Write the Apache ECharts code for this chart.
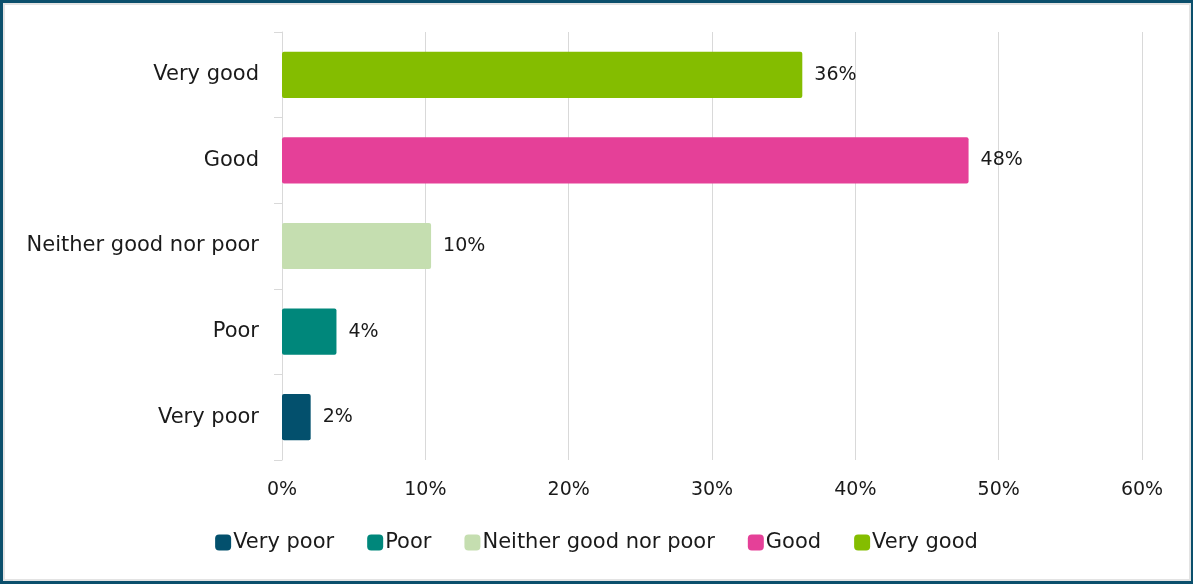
<!DOCTYPE html>
<html>
<head>
<meta charset="utf-8">
<script src="https://cdn.jsdelivr.net/npm/echarts@6/dist/echarts.min.js"></script>
<style>
html,body{margin:0;padding:0;background:#fff;}
#chart{position:absolute;left:0;top:0;width:1193px;height:584px;}
#wrap{position:absolute;left:0;top:0;width:1193px;height:584px;box-sizing:border-box;border:3px solid #0B4F6C;border-right-width:2px;pointer-events:none;}
#inner{position:absolute;left:0;top:0;right:0;bottom:0;border:2px solid #e3e3e3;}
</style>
</head>
<body>
<div id="chart"></div>
<div id="wrap"><div id="inner"></div></div>
<script>
const categories = ['Very poor', 'Poor', 'Neither good nor poor', 'Good', 'Very good'];
const values = [2.0, 3.8, 10.4, 47.9, 36.3];
const colors = ['#03506D', '#00877B', '#C5DEB0', '#E54098', '#84BD00'];
const xTicks = [0, 10, 20, 30, 40, 50, 60];

const FONT = 'DejaVu Sans, sans-serif';
const chart = echarts.init(document.getElementById('chart'));
const series = categories.map((name, i) => ({
  name: name,
  type: 'bar',
  stack: 'all',
  barWidth: '54%',
  itemStyle: { color: colors[i], borderRadius: 2 },
  label: {
    show: true, position: 'right', distance: 12,
    color: '#1a1a1a', fontSize: 19, fontFamily: FONT,
    formatter: p => Math.round(p.value) + '%'
  },
  data: categories.map((c, j) => j === i ? values[i] : null)
}));

chart.setOption({
  animation: false,
  textStyle: { fontFamily: FONT },
  grid: { left: 282, right: 51, top: 32, bottom: 124 },
  legend: {
    bottom: 26, left: 'center',
    itemWidth: 16, itemHeight: 16, itemGap: 33,
    icon: 'roundRect',
    textStyle: { fontSize: 21, color: '#1a1a1a', fontFamily: FONT, padding: [0, 0, 0, -3] },
    data: categories
  },
  xAxis: {
    type: 'value', min: xTicks[0], max: xTicks[xTicks.length - 1], interval: 10,
    axisLine: { show: false }, axisTick: { show: false },
    splitLine: { lineStyle: { color: '#d9d9d9', width: 1 } },
    axisLabel: { formatter: v => v + '%', fontSize: 19, color: '#1a1a1a', margin: 21, fontFamily: FONT }
  },
  yAxis: {
    type: 'category', data: categories,
    axisLine: { lineStyle: { color: '#d9d9d9' } },
    axisTick: { show: true, length: 8, lineStyle: { color: '#d9d9d9' } },
    axisLabel: { fontSize: 21, color: '#1a1a1a', margin: 23, fontFamily: FONT }
  },
  series: series
});
</script>
</body>
</html>
